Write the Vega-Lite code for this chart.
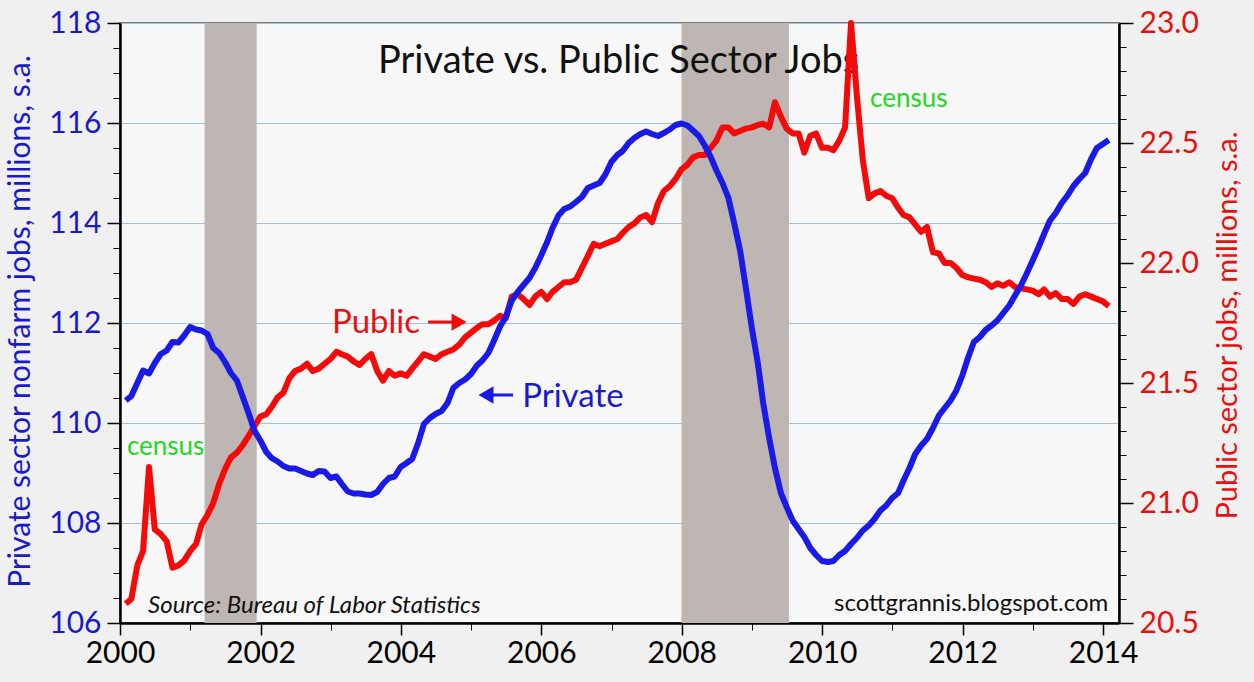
{
  "$schema": "https://vega.github.io/schema/vega-lite/v6.json",
  "width": 999,
  "height": 600,
  "autosize": {"type": "none"},
  "padding": {"left": 120, "top": 23, "right": 135, "bottom": 59},
  "background": "#f0f0f0",
  "config": {
    "view": {"fill": "#f7f7f7", "stroke": "#787878", "strokeWidth": 2},
    "font": "Lato",
    "axis": {"labelFont": "Lato", "titleFont": "Lato", "titleFontWeight": "normal"}
  },
  "datasets": {
    "jobs": [
      {"d": "2000-01-31", "pri": 110.45, "pub": 20.58},
      {"d": "2000-02-29", "pri": 110.54, "pub": 20.60},
      {"d": "2000-03-31", "pri": 110.80, "pub": 20.74},
      {"d": "2000-04-30", "pri": 111.05, "pub": 20.80},
      {"d": "2000-05-31", "pri": 110.99, "pub": 21.15},
      {"d": "2000-06-30", "pri": 111.20, "pub": 20.89},
      {"d": "2000-07-31", "pri": 111.38, "pub": 20.87},
      {"d": "2000-08-31", "pri": 111.45, "pub": 20.84},
      {"d": "2000-09-30", "pri": 111.62, "pub": 20.73},
      {"d": "2000-10-31", "pri": 111.61, "pub": 20.74},
      {"d": "2000-11-30", "pri": 111.75, "pub": 20.76},
      {"d": "2000-12-31", "pri": 111.92, "pub": 20.80},
      {"d": "2001-01-31", "pri": 111.87, "pub": 20.83},
      {"d": "2001-02-28", "pri": 111.85, "pub": 20.91},
      {"d": "2001-03-31", "pri": 111.78, "pub": 20.95},
      {"d": "2001-04-30", "pri": 111.50, "pub": 21.00},
      {"d": "2001-05-31", "pri": 111.40, "pub": 21.08},
      {"d": "2001-06-30", "pri": 111.22, "pub": 21.14},
      {"d": "2001-07-31", "pri": 111.00, "pub": 21.19},
      {"d": "2001-08-31", "pri": 110.85, "pub": 21.21},
      {"d": "2001-09-30", "pri": 110.53, "pub": 21.24},
      {"d": "2001-10-31", "pri": 110.20, "pub": 21.28},
      {"d": "2001-11-30", "pri": 109.85, "pub": 21.32},
      {"d": "2001-12-31", "pri": 109.65, "pub": 21.36},
      {"d": "2002-01-31", "pri": 109.42, "pub": 21.37},
      {"d": "2002-02-28", "pri": 109.30, "pub": 21.40},
      {"d": "2002-03-31", "pri": 109.23, "pub": 21.44},
      {"d": "2002-04-30", "pri": 109.14, "pub": 21.46},
      {"d": "2002-05-31", "pri": 109.09, "pub": 21.52},
      {"d": "2002-06-30", "pri": 109.09, "pub": 21.55},
      {"d": "2002-07-31", "pri": 109.04, "pub": 21.56},
      {"d": "2002-08-31", "pri": 108.99, "pub": 21.58},
      {"d": "2002-09-30", "pri": 108.96, "pub": 21.55},
      {"d": "2002-10-31", "pri": 109.04, "pub": 21.56},
      {"d": "2002-11-30", "pri": 109.03, "pub": 21.58},
      {"d": "2002-12-31", "pri": 108.90, "pub": 21.60},
      {"d": "2003-01-31", "pri": 108.93, "pub": 21.63},
      {"d": "2003-02-28", "pri": 108.78, "pub": 21.62},
      {"d": "2003-03-31", "pri": 108.63, "pub": 21.61},
      {"d": "2003-04-30", "pri": 108.59, "pub": 21.59},
      {"d": "2003-05-31", "pri": 108.59, "pub": 21.575},
      {"d": "2003-06-30", "pri": 108.57, "pub": 21.60},
      {"d": "2003-07-31", "pri": 108.56, "pub": 21.62},
      {"d": "2003-08-31", "pri": 108.62, "pub": 21.55},
      {"d": "2003-09-30", "pri": 108.78, "pub": 21.51},
      {"d": "2003-10-31", "pri": 108.90, "pub": 21.55},
      {"d": "2003-11-30", "pri": 108.93, "pub": 21.53},
      {"d": "2003-12-31", "pri": 109.12, "pub": 21.54},
      {"d": "2004-01-31", "pri": 109.20, "pub": 21.53},
      {"d": "2004-02-29", "pri": 109.28, "pub": 21.56},
      {"d": "2004-03-31", "pri": 109.60, "pub": 21.59},
      {"d": "2004-04-30", "pri": 109.98, "pub": 21.62},
      {"d": "2004-05-31", "pri": 110.10, "pub": 21.61},
      {"d": "2004-06-30", "pri": 110.18, "pub": 21.60},
      {"d": "2004-07-31", "pri": 110.24, "pub": 21.62},
      {"d": "2004-08-31", "pri": 110.40, "pub": 21.63},
      {"d": "2004-09-30", "pri": 110.70, "pub": 21.64},
      {"d": "2004-10-31", "pri": 110.80, "pub": 21.66},
      {"d": "2004-11-30", "pri": 110.87, "pub": 21.69},
      {"d": "2004-12-31", "pri": 110.98, "pub": 21.71},
      {"d": "2005-01-31", "pri": 111.15, "pub": 21.73},
      {"d": "2005-02-28", "pri": 111.25, "pub": 21.745},
      {"d": "2005-03-31", "pri": 111.40, "pub": 21.745},
      {"d": "2005-04-30", "pri": 111.65, "pub": 21.76},
      {"d": "2005-05-31", "pri": 111.93, "pub": 21.78},
      {"d": "2005-06-30", "pri": 112.12, "pub": 21.77},
      {"d": "2005-07-31", "pri": 112.45, "pub": 21.86},
      {"d": "2005-08-31", "pri": 112.62, "pub": 21.87},
      {"d": "2005-09-30", "pri": 112.76, "pub": 21.85},
      {"d": "2005-10-31", "pri": 112.90, "pub": 21.825},
      {"d": "2005-11-30", "pri": 113.10, "pub": 21.86},
      {"d": "2005-12-31", "pri": 113.35, "pub": 21.88},
      {"d": "2006-01-31", "pri": 113.62, "pub": 21.85},
      {"d": "2006-02-28", "pri": 113.90, "pub": 21.88},
      {"d": "2006-03-31", "pri": 114.15, "pub": 21.90},
      {"d": "2006-04-30", "pri": 114.28, "pub": 21.92},
      {"d": "2006-05-31", "pri": 114.33, "pub": 21.92},
      {"d": "2006-06-30", "pri": 114.42, "pub": 21.93},
      {"d": "2006-07-31", "pri": 114.52, "pub": 21.98},
      {"d": "2006-08-31", "pri": 114.70, "pub": 22.03},
      {"d": "2006-09-30", "pri": 114.75, "pub": 22.08},
      {"d": "2006-10-31", "pri": 114.80, "pub": 22.07},
      {"d": "2006-11-30", "pri": 114.97, "pub": 22.08},
      {"d": "2006-12-31", "pri": 115.22, "pub": 22.09},
      {"d": "2007-01-31", "pri": 115.36, "pub": 22.10},
      {"d": "2007-02-28", "pri": 115.44, "pub": 22.125},
      {"d": "2007-03-31", "pri": 115.60, "pub": 22.15},
      {"d": "2007-04-30", "pri": 115.70, "pub": 22.165},
      {"d": "2007-05-31", "pri": 115.78, "pub": 22.19},
      {"d": "2007-06-30", "pri": 115.83, "pub": 22.20},
      {"d": "2007-07-31", "pri": 115.78, "pub": 22.17},
      {"d": "2007-08-31", "pri": 115.74, "pub": 22.25},
      {"d": "2007-09-30", "pri": 115.80, "pub": 22.30},
      {"d": "2007-10-31", "pri": 115.87, "pub": 22.32},
      {"d": "2007-11-30", "pri": 115.96, "pub": 22.35},
      {"d": "2007-12-31", "pri": 115.99, "pub": 22.39},
      {"d": "2008-01-31", "pri": 115.95, "pub": 22.41},
      {"d": "2008-02-29", "pri": 115.85, "pub": 22.44},
      {"d": "2008-03-31", "pri": 115.74, "pub": 22.45},
      {"d": "2008-04-30", "pri": 115.55, "pub": 22.45},
      {"d": "2008-05-31", "pri": 115.32, "pub": 22.48},
      {"d": "2008-06-30", "pri": 115.05, "pub": 22.51},
      {"d": "2008-07-31", "pri": 114.80, "pub": 22.565},
      {"d": "2008-08-31", "pri": 114.50, "pub": 22.565},
      {"d": "2008-09-30", "pri": 114.00, "pub": 22.54},
      {"d": "2008-10-31", "pri": 113.45, "pub": 22.55},
      {"d": "2008-11-30", "pri": 112.70, "pub": 22.56},
      {"d": "2008-12-31", "pri": 111.90, "pub": 22.565},
      {"d": "2009-01-31", "pri": 111.20, "pub": 22.575},
      {"d": "2009-02-28", "pri": 110.40, "pub": 22.58},
      {"d": "2009-03-31", "pri": 109.70, "pub": 22.565},
      {"d": "2009-04-30", "pri": 109.10, "pub": 22.67},
      {"d": "2009-05-31", "pri": 108.60, "pub": 22.61},
      {"d": "2009-06-30", "pri": 108.32, "pub": 22.56},
      {"d": "2009-07-31", "pri": 108.05, "pub": 22.54},
      {"d": "2009-08-31", "pri": 107.88, "pub": 22.54},
      {"d": "2009-09-30", "pri": 107.72, "pub": 22.46},
      {"d": "2009-10-31", "pri": 107.50, "pub": 22.53},
      {"d": "2009-11-30", "pri": 107.36, "pub": 22.54},
      {"d": "2009-12-31", "pri": 107.24, "pub": 22.48},
      {"d": "2010-01-31", "pri": 107.22, "pub": 22.48},
      {"d": "2010-02-28", "pri": 107.24, "pub": 22.47},
      {"d": "2010-03-31", "pri": 107.36, "pub": 22.51},
      {"d": "2010-04-30", "pri": 107.44, "pub": 22.565},
      {"d": "2010-05-31", "pri": 107.58, "pub": 23.00},
      {"d": "2010-06-30", "pri": 107.70, "pub": 22.70},
      {"d": "2010-07-31", "pri": 107.85, "pub": 22.43},
      {"d": "2010-08-31", "pri": 107.95, "pub": 22.27},
      {"d": "2010-09-30", "pri": 108.08, "pub": 22.29},
      {"d": "2010-10-31", "pri": 108.25, "pub": 22.30},
      {"d": "2010-11-30", "pri": 108.35, "pub": 22.28},
      {"d": "2010-12-31", "pri": 108.50, "pub": 22.27},
      {"d": "2011-01-31", "pri": 108.60, "pub": 22.23},
      {"d": "2011-02-28", "pri": 108.85, "pub": 22.20},
      {"d": "2011-03-31", "pri": 109.10, "pub": 22.19},
      {"d": "2011-04-30", "pri": 109.38, "pub": 22.16},
      {"d": "2011-05-31", "pri": 109.55, "pub": 22.13},
      {"d": "2011-06-30", "pri": 109.68, "pub": 22.15},
      {"d": "2011-07-31", "pri": 109.90, "pub": 22.045},
      {"d": "2011-08-31", "pri": 110.15, "pub": 22.04},
      {"d": "2011-09-30", "pri": 110.30, "pub": 22.00},
      {"d": "2011-10-31", "pri": 110.45, "pub": 22.00},
      {"d": "2011-11-30", "pri": 110.65, "pub": 21.98},
      {"d": "2011-12-31", "pri": 110.95, "pub": 21.95},
      {"d": "2012-01-31", "pri": 111.32, "pub": 21.94},
      {"d": "2012-02-29", "pri": 111.62, "pub": 21.935},
      {"d": "2012-03-31", "pri": 111.72, "pub": 21.93},
      {"d": "2012-04-30", "pri": 111.86, "pub": 21.92},
      {"d": "2012-05-31", "pri": 111.95, "pub": 21.90},
      {"d": "2012-06-30", "pri": 112.05, "pub": 21.915},
      {"d": "2012-07-31", "pri": 112.20, "pub": 21.905},
      {"d": "2012-08-31", "pri": 112.35, "pub": 21.92},
      {"d": "2012-09-30", "pri": 112.55, "pub": 21.90},
      {"d": "2012-10-31", "pri": 112.75, "pub": 21.895},
      {"d": "2012-11-30", "pri": 112.99, "pub": 21.89},
      {"d": "2012-12-31", "pri": 113.25, "pub": 21.885},
      {"d": "2013-01-31", "pri": 113.52, "pub": 21.87},
      {"d": "2013-02-28", "pri": 113.78, "pub": 21.89},
      {"d": "2013-03-31", "pri": 114.05, "pub": 21.86},
      {"d": "2013-04-30", "pri": 114.20, "pub": 21.875},
      {"d": "2013-05-31", "pri": 114.40, "pub": 21.85},
      {"d": "2013-06-30", "pri": 114.55, "pub": 21.85},
      {"d": "2013-07-31", "pri": 114.74, "pub": 21.83},
      {"d": "2013-08-31", "pri": 114.88, "pub": 21.86},
      {"d": "2013-09-30", "pri": 115.00, "pub": 21.87},
      {"d": "2013-10-31", "pri": 115.28, "pub": 21.86},
      {"d": "2013-11-30", "pri": 115.50, "pub": 21.85},
      {"d": "2013-12-31", "pri": 115.58, "pub": 21.84},
      {"d": "2014-01-31", "pri": 115.66, "pub": 21.82}
    ],
    "recessions": [
      {"s": "2001-03-16", "e": "2001-12-12"},
      {"s": "2007-12-31", "e": "2009-07-12"}
    ]
  },
  "resolve": {
    "scale": {"y": "independent"},
    "axis": {"x": "independent", "y": "independent"}
  },
  "layer": [
    {
      "data": {"name": "recessions"},
      "mark": {"type": "rect", "color": "#bdb6b2"},
      "encoding": {
        "x": {
          "field": "s", "type": "temporal",
          "scale": {"type": "utc", "domain": [{"year": 2000, "month": 1, "date": 1, "utc": true}, {"year": 2014, "month": 3, "date": 25, "utc": true}]},
          "axis": {
            "orient": "bottom",
            "values": [{"year": 2000, "utc": true}, {"year": 2002, "utc": true}, {"year": 2004, "utc": true}, {"year": 2006, "utc": true}, {"year": 2008, "utc": true}, {"year": 2010, "utc": true}, {"year": 2012, "utc": true}, {"year": 2014, "utc": true}],
            "format": "%Y", "labelFontSize": 30, "labelColor": "#000000", "labelPadding": 3,
            "labelFlush": false, "labelOverlap": false,
            "tickSize": 12, "tickWidth": 1.5, "tickColor": "#000000",
            "domainColor": "#000000", "domainWidth": 2.5, "grid": false, "title": null
          }
        },
        "x2": {"field": "e"}
      }
    },
    {
      "data": {"values": [{"d": "2007-02-07", "v": 117.0, "t": "Private vs. Public Sector Jobs"}]},
      "mark": {"type": "text", "color": "#111111", "fontSize": 38, "align": "center", "baseline": "alphabetic", "font": "Lato"},
      "encoding": {
        "x": {"field": "d", "type": "temporal", "scale": {"type": "utc", "domain": [{"year": 2000, "month": 1, "date": 1, "utc": true}, {"year": 2014, "month": 3, "date": 25, "utc": true}]}, "axis": null},
        "y": {"field": "v", "type": "quantitative", "scale": {"domain": [106, 118], "nice": false, "zero": false}, "axis": null},
        "text": {"field": "t"}
      }
    },
    {
      "data": {"name": "jobs"},
      "mark": {"type": "line", "color": "#f50a0a", "strokeWidth": 6, "strokeJoin": "round", "clip": false},
      "encoding": {
        "x": {"field": "d", "type": "temporal", "scale": {"type": "utc", "domain": [{"year": 2000, "month": 1, "date": 1, "utc": true}, {"year": 2014, "month": 3, "date": 25, "utc": true}]}, "axis": null},
        "y": {
          "field": "pub", "type": "quantitative",
          "scale": {"domain": [20.5, 23.0], "nice": false, "zero": false},
          "axis": {
            "orient": "right",
            "values": [20.5, 21.0, 21.5, 22.0, 22.5, 23.0],
            "format": ".1f", "labelFontSize": 30, "labelColor": "#e8100f", "labelPadding": 6,
            "tickSize": 14, "tickWidth": 1.5, "tickColor": "#000000",
            "domainColor": "#000000", "domainWidth": 2.5, "grid": false,
            "title": "Public sector jobs, millions, s.a.", "titleColor": "#e8100f", "titleFontSize": 29,
            "titleAngle": -90, "titleX": 108, "titleY": 302, "titleAlign": "center", "titleBaseline": "middle"
          }
        }
      }
    },
    {
      "data": {"name": "jobs"},
      "mark": {"type": "line", "color": "#1a1ae8", "strokeWidth": 6, "strokeJoin": "round"},
      "encoding": {
        "x": {
          "field": "d", "type": "temporal",
          "scale": {"type": "utc", "domain": [{"year": 2000, "month": 1, "date": 1, "utc": true}, {"year": 2014, "month": 3, "date": 25, "utc": true}]},
          "axis": {
            "orient": "bottom",
            "values": [{"year": 2001, "utc": true}, {"year": 2003, "utc": true}, {"year": 2005, "utc": true}, {"year": 2007, "utc": true}, {"year": 2009, "utc": true}, {"year": 2011, "utc": true}, {"year": 2013, "utc": true}],
            "labels": false, "domain": false, "grid": false, "title": null,
            "tickSize": 7, "tickWidth": 1, "tickColor": "#000000"
          }
        },
        "y": {
          "field": "pri", "type": "quantitative",
          "scale": {"domain": [106, 118], "nice": false, "zero": false},
          "axis": {
            "orient": "left",
            "values": [106, 108, 110, 112, 114, 116, 118],
            "labelFontSize": 30, "labelColor": "#1a1acc", "labelPadding": 6,
            "tickSize": 13, "tickWidth": 1.5, "tickColor": "#000000",
            "domainColor": "#000000", "domainWidth": 2.5,
            "grid": true, "gridColor": "#9fc2da", "gridWidth": 1.2,
            "title": "Private sector nonfarm jobs, millions, s.a.", "titleColor": "#1a1acc", "titleFontSize": 30,
            "titleX": -100, "titleY": 298, "titleAlign": "center", "titleBaseline": "middle"
          }
        }
      }
    },
    {
      "data": {"values": [{"d": "2005-09-23", "v": 110.32, "t": "Private"}]},
      "mark": {"type": "text", "color": "#1a1acc", "fontSize": 33, "align": "left", "baseline": "alphabetic", "font": "Lato"},
      "encoding": {
        "x": {"field": "d", "type": "temporal", "scale": {"type": "utc", "domain": [{"year": 2000, "month": 1, "date": 1, "utc": true}, {"year": 2014, "month": 3, "date": 25, "utc": true}]}, "axis": null},
        "y": {
          "field": "v", "type": "quantitative",
          "scale": {"domain": [106, 118], "nice": false, "zero": false},
          "axis": {
            "orient": "left",
            "values": [106.5, 107, 107.5, 108.5, 109, 109.5, 110.5, 111, 111.5, 112.5, 113, 113.5, 114.5, 115, 115.5, 116.5, 117, 117.5],
            "labels": false, "domain": false, "grid": false, "title": null,
            "tickSize": 7, "tickWidth": 1, "tickColor": "#000000"
          }
        },
        "text": {"field": "t"}
      }
    },
    {
      "data": {"values": [{"a": "2005-04-09", "b": "2005-08-07", "v": 110.56}]},
      "mark": {"type": "rule", "color": "#1a1ae8", "strokeWidth": 3},
      "encoding": {
        "x": {"field": "a", "type": "temporal", "scale": {"type": "utc", "domain": [{"year": 2000, "month": 1, "date": 1, "utc": true}, {"year": 2014, "month": 3, "date": 25, "utc": true}]}, "axis": null},
        "x2": {"field": "b"},
        "y": {"field": "v", "type": "quantitative", "scale": {"domain": [106, 118], "nice": false, "zero": false}, "axis": null}
      }
    },
    {
      "data": {"values": [{"a": "2005-03-19", "v": 110.56}]},
      "mark": {"type": "point", "shape": "triangle-left", "filled": true, "size": 300, "color": "#1a1ae8", "opacity": 1},
      "encoding": {
        "x": {"field": "a", "type": "temporal", "scale": {"type": "utc", "domain": [{"year": 2000, "month": 1, "date": 1, "utc": true}, {"year": 2014, "month": 3, "date": 25, "utc": true}]}, "axis": null},
        "y": {"field": "v", "type": "quantitative", "scale": {"domain": [106, 118], "nice": false, "zero": false}, "axis": null}
      }
    },
    {
      "data": {"values": [{"d": "2003-01-08", "v": 21.708, "t": "Public"}]},
      "mark": {"type": "text", "color": "#e8100f", "fontSize": 33, "align": "left", "baseline": "alphabetic", "font": "Lato"},
      "encoding": {
        "x": {"field": "d", "type": "temporal", "scale": {"type": "utc", "domain": [{"year": 2000, "month": 1, "date": 1, "utc": true}, {"year": 2014, "month": 3, "date": 25, "utc": true}]}, "axis": null},
        "y": {
          "field": "v", "type": "quantitative",
          "scale": {"domain": [20.5, 23.0], "nice": false, "zero": false},
          "axis": {
            "orient": "right",
            "values": [20.6, 20.7, 20.8, 20.9, 21.1, 21.2, 21.3, 21.4, 21.6, 21.7, 21.8, 21.9, 22.1, 22.2, 22.3, 22.4, 22.6, 22.7, 22.8, 22.9],
            "labels": false, "domain": false, "grid": false, "title": null,
            "tickSize": 7, "tickWidth": 1, "tickColor": "#000000"
          }
        },
        "text": {"field": "t"}
      }
    },
    {
      "data": {"values": [{"a": "2004-05-22", "b": "2004-10-08", "v": 21.754}]},
      "mark": {"type": "rule", "color": "#f50a0a", "strokeWidth": 3},
      "encoding": {
        "x": {"field": "a", "type": "temporal", "scale": {"type": "utc", "domain": [{"year": 2000, "month": 1, "date": 1, "utc": true}, {"year": 2014, "month": 3, "date": 25, "utc": true}]}, "axis": null},
        "x2": {"field": "b"},
        "y": {"field": "v", "type": "quantitative", "scale": {"domain": [20.5, 23.0], "nice": false, "zero": false}, "axis": null}
      }
    },
    {
      "data": {"values": [{"a": "2004-10-30", "v": 21.754}]},
      "mark": {"type": "point", "shape": "triangle-right", "filled": true, "size": 300, "color": "#f50a0a", "opacity": 1},
      "encoding": {
        "x": {"field": "a", "type": "temporal", "scale": {"type": "utc", "domain": [{"year": 2000, "month": 1, "date": 1, "utc": true}, {"year": 2014, "month": 3, "date": 25, "utc": true}]}, "axis": null},
        "y": {"field": "v", "type": "quantitative", "scale": {"domain": [20.5, 23.0], "nice": false, "zero": false}, "axis": null}
      }
    },
    {
      "data": {"values": [{"d": "2000-02-06", "v": 109.36, "t": "census"}, {"d": "2010-09-07", "v": 116.32, "t": "census"}]},
      "mark": {"type": "text", "color": "#22d822", "fontSize": 26, "align": "left", "baseline": "alphabetic", "font": "Lato"},
      "encoding": {
        "x": {"field": "d", "type": "temporal", "scale": {"type": "utc", "domain": [{"year": 2000, "month": 1, "date": 1, "utc": true}, {"year": 2014, "month": 3, "date": 25, "utc": true}]}, "axis": null},
        "y": {"field": "v", "type": "quantitative", "scale": {"domain": [106, 118], "nice": false, "zero": false}, "axis": null},
        "text": {"field": "t"}
      }
    },
    {
      "data": {"values": [{"d": "2000-05-26", "v": 106.2, "t": "Source: Bureau of Labor Statistics"}]},
      "mark": {"type": "text", "color": "#111111", "fontSize": 24, "fontStyle": "italic", "align": "left", "baseline": "alphabetic", "font": "Lato"},
      "encoding": {
        "x": {"field": "d", "type": "temporal", "scale": {"type": "utc", "domain": [{"year": 2000, "month": 1, "date": 1, "utc": true}, {"year": 2014, "month": 3, "date": 25, "utc": true}]}, "axis": null},
        "y": {"field": "v", "type": "quantitative", "scale": {"domain": [106, 118], "nice": false, "zero": false}, "axis": null},
        "text": {"field": "t"}
      }
    },
    {
      "data": {"values": [{"d": "2014-01-28", "v": 106.24, "t": "scottgrannis.blogspot.com"}]},
      "mark": {"type": "text", "color": "#111111", "fontSize": 24, "align": "right", "baseline": "alphabetic", "font": "Lato"},
      "encoding": {
        "x": {"field": "d", "type": "temporal", "scale": {"type": "utc", "domain": [{"year": 2000, "month": 1, "date": 1, "utc": true}, {"year": 2014, "month": 3, "date": 25, "utc": true}]}, "axis": null},
        "y": {"field": "v", "type": "quantitative", "scale": {"domain": [106, 118], "nice": false, "zero": false}, "axis": null},
        "text": {"field": "t"}
      }
    }
  ]
}
